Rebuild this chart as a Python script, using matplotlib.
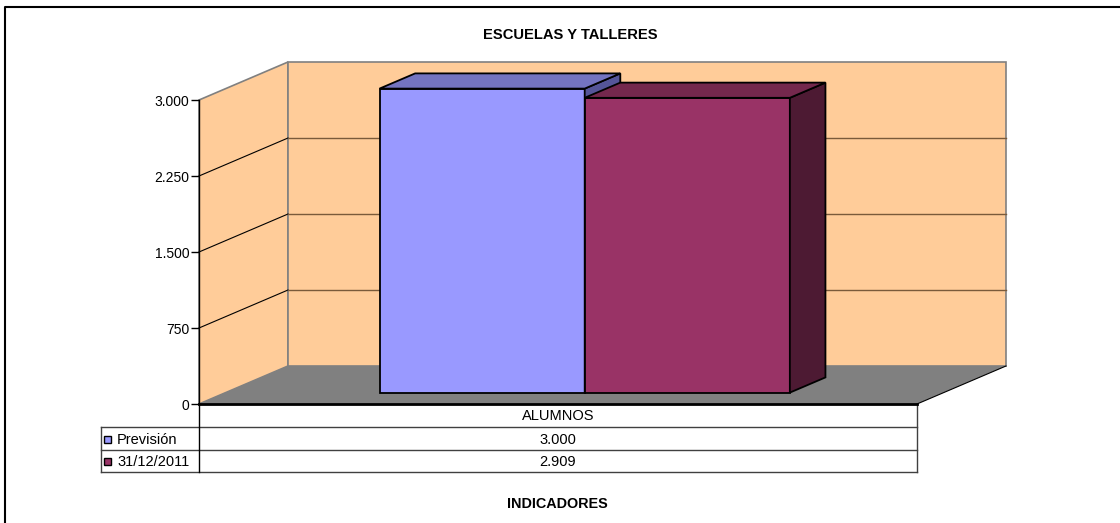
import matplotlib
matplotlib.use("Agg")
import matplotlib.pyplot as plt
from matplotlib.patches import Polygon
from matplotlib.ticker import FixedLocator, FuncFormatter

plt.rcParams['font.family'] = ['Liberation Sans', 'DejaVu Sans']

# data
title = "ESCUELAS Y TALLERES"
xlabel = "INDICADORES"
category = "ALUMNOS"
series = ["Previsión", "31/12/2011"]
values = [3000, 2909]
yticks = [0, 750, 1500, 2250, 3000]

front_cols = ["#9999FF", "#993366"]
top_cols = ["#7474C0", "#74284D"]
side_cols = ["#555599", "#4D1A33"]


def fmt(v, pos=None):
    return f"{int(v):,}".replace(",", ".")


W, H = 1120, 523
fig = plt.figure(figsize=(W / 100, H / 100), dpi=100)

# overlay in pixel coords for border and data table
ov = fig.add_axes([0, 0, 1, 1])
ov.set_xlim(0, W)
ov.set_ylim(H, 0)
ov.axis("off")

# main axes: front plane of the 3d box
left, right, y0, y1 = 199, 917, 404, 100
ax = fig.add_axes([left / W, (H - y0) / H, (right - left) / W, (y0 - y1) / H])
ax.patch.set_alpha(0)
ymax = yticks[-1]
ax.set_xlim(0, 1)
ax.set_ylim(0, ymax)
DX = 89 / (right - left)          # depth shift in x units
DY = 38 / (y0 - y1) * ymax        # depth shift in value units


def P(x, v, z):
    return (x + z * DX, v + z * DY)


# walls and floor
ax.add_patch(Polygon([P(0, 0, 0), P(0, ymax, 0), P(0, ymax, 1), P(0, 0, 1)],
                     closed=True, fc="#FFCC99", ec="#808080", lw=1.2, clip_on=False, zorder=1))
ax.add_patch(Polygon([P(0, 0, 1), P(0, ymax, 1), P(1, ymax, 1), P(1, 0, 1)],
                     closed=True, fc="#FFCC99", ec="#808080", lw=1.2, clip_on=False, zorder=1))
ax.add_patch(Polygon([P(0, 0, 0), P(0, 0, 1), P(1, 0, 1), P(1, 0, 0)],
                     closed=True, fc="#808080", ec="none", clip_on=False, zorder=1))
fx, fy = zip(P(1, 0, 0), P(1, 0, 1))
ax.plot(fx, fy, color="black", lw=0.8, clip_on=False, zorder=2)

for v in yticks[1:-1]:
    gx, gy = zip(P(0, v, 0), P(0, v, 1))
    ax.plot(gx, gy, color="black", lw=0.8, clip_on=False, zorder=2)
    gx, gy = zip(P(0, v, 1), P(1, v, 1))
    ax.plot(gx, gy, color="#7A5A3A", lw=1.0, clip_on=False, zorder=2)

# bars
n = len(values)
bw = 1 / (n + 1.5)
x_start = 0.5 - n * bw / 2
z0, z1 = 0.3, 0.7
for i, v in enumerate(values):
    xa, xb = x_start + i * bw, x_start + (i + 1) * bw
    zo = 3 + i
    kw = dict(closed=True, ec="black", lw=1.3, clip_on=False, zorder=zo, joinstyle="miter")
    ax.add_patch(Polygon([P(xa, 0, z0), P(xa, v, z0), P(xb, v, z0), P(xb, 0, z0)], fc=front_cols[i], **kw))
    ax.add_patch(Polygon([P(xb, 0, z0), P(xb, v, z0), P(xb, v, z1), P(xb, 0, z1)], fc=side_cols[i], **kw))
    ax.add_patch(Polygon([P(xa, v, z0), P(xa, v, z1), P(xb, v, z1), P(xb, v, z0)], fc=top_cols[i], **kw))

# axes styling
for s in ["top", "right"]:
    ax.spines[s].set_visible(False)
ax.spines["left"].set_linewidth(1.0)
ax.spines["bottom"].set_linewidth(2.0)
ax.spines["left"].set_zorder(6)
ax.spines["bottom"].set_zorder(6)
ax.yaxis.set_major_locator(FixedLocator(yticks))
ax.yaxis.set_major_formatter(FuncFormatter(fmt))
ax.tick_params(axis="y", length=6, width=1, pad=1, labelsize=10, colors="black")
ax.set_xticks([])

# border (right and bottom run off the image)
ov.plot([5, 5, W + 5], [H + 5, 7, 7], color="black", lw=1.5)

# titles
ov.text(570, 35, title, ha="center", va="center", fontsize=10.6, fontweight="bold")
ov.text(557, 504, xlabel, ha="center", va="center", fontsize=10.4, fontweight="bold")

# data table
rows = [404, 427, 450, 472]
cx = (left + right) / 2
tc = "#404040"
for r in rows[1:]:
    ov.plot([101, right], [r, r], color=tc, lw=1.0)
ov.plot([101, 101], [rows[1], rows[-1]], color=tc, lw=1.0)
ov.plot([right, right], [rows[0], rows[-1]], color=tc, lw=1.0)
ov.plot([left, left], [rows[0], rows[-1]], color="black", lw=1.0)
ov.text(cx, (rows[0] + rows[1]) / 2 + 1, category, ha="center", va="center", fontsize=10.5)
for i, (name, v) in enumerate(zip(series, values)):
    ym = (rows[i + 1] + rows[i + 2]) / 2 + 1
    ov.add_patch(plt.Rectangle((104, ym - 4), 7, 7, fc=front_cols[i], ec="black", lw=1.0))
    ov.text(117, ym, name, ha="left", va="center", fontsize=10.5)
    ov.text(cx, ym, fmt(v), ha="center", va="center", fontsize=10.5)

fig.savefig("out.png", dpi=100)
